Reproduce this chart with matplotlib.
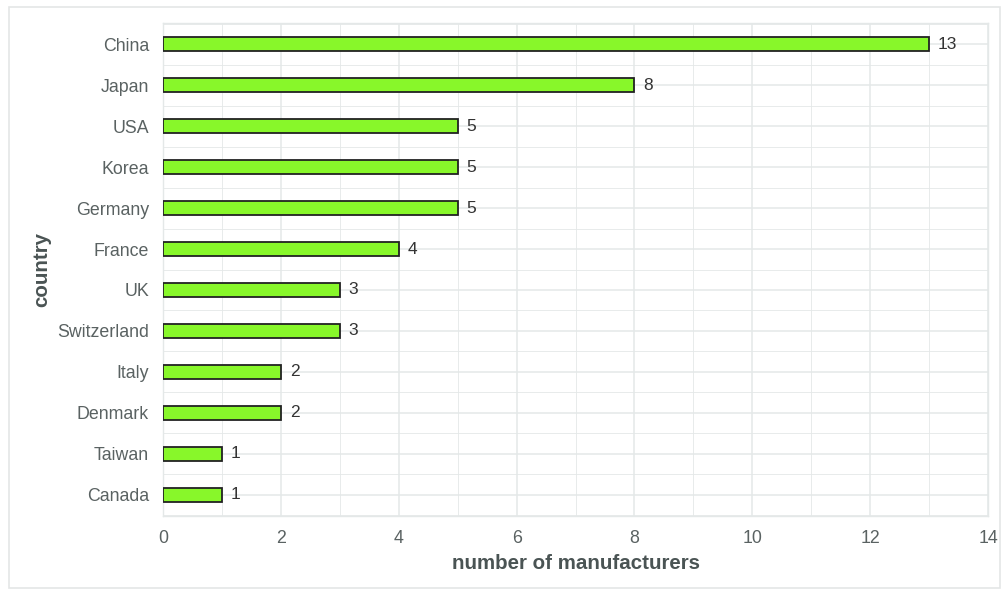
import matplotlib.pyplot as plt
from matplotlib.patches import Rectangle
from matplotlib.ticker import MultipleLocator

plt.rcParams["font.family"] = ["Liberation Sans", "DejaVu Sans"]

countries = ["China", "Japan", "USA", "Korea", "Germany", "France", "UK",
             "Switzerland", "Italy", "Denmark", "Taiwan", "Canada"]
counts = [13, 8, 5, 5, 5, 4, 3, 3, 2, 2, 1, 1]

BAR_COLOR = "#88f72a"
GRID = "#e4e8e8"
TEXT = "#5a6262"

fig = plt.figure(figsize=(10.05, 5.9), dpi=100)
ax = fig.add_axes([0.1622, 0.1254, 0.821, 0.8356])

ypos = list(range(len(countries)))
ax.barh(ypos, counts, height=0.34, color=BAR_COLOR, edgecolor="#222222",
        linewidth=1.3, zorder=3)
for y, v in zip(ypos, counts):
    ax.text(v + 0.15, y, str(v), va="center", ha="left", fontsize=12.5,
            color="#333333", zorder=4)

ax.set_yticks(ypos)
ax.set_yticklabels(countries)
ax.set_ylim(len(countries) - 0.48, -0.52)
ax.set_xlim(0, 14)
ax.xaxis.set_major_locator(MultipleLocator(2))
ax.xaxis.set_minor_locator(MultipleLocator(1))
ax.set_yticks([i + 0.5 for i in range(-1, len(countries))], minor=True)

ax.grid(which="major", color=GRID, linewidth=1.1, zorder=0)
ax.grid(which="minor", color=GRID, linewidth=0.6, zorder=0)
ax.set_axisbelow(True)
ax.tick_params(which="both", length=0)
ax.tick_params(axis="both", labelsize=12.8, labelcolor=TEXT)
ax.tick_params(axis="y", pad=10)
ax.tick_params(axis="x", pad=10)
for s in ax.spines.values():
    s.set_color(GRID)
    s.set_linewidth(1.0)

ax.set_xlabel("number of manufacturers", fontsize=14.8, fontweight="bold",
              color="#4a5454", labelpad=5)
ax.set_ylabel("country", fontsize=14.8, fontweight="bold", color="#4a5454",
              labelpad=4)

fig.patches.append(Rectangle((9 / 1005, 2 / 590), 991 / 1005, 581 / 590,
                             transform=fig.transFigure, fill=False,
                             edgecolor="#e4e6e6", linewidth=1.2))

fig.savefig("out.png", dpi=100)
